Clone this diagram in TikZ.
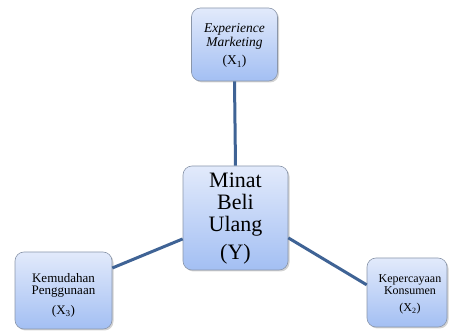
\documentclass[tikz,border=0pt]{standalone}
\usepackage{fontspec}
\setmainfont{Liberation Serif}
\usetikzlibrary{shadows,calc}
\definecolor{topc}{HTML}{E2EAFB}
\definecolor{botc}{HTML}{A3BFF3}
\definecolor{edgec}{HTML}{8A96AA}
\definecolor{linec}{HTML}{3F6395}
\begin{document}
\begin{tikzpicture}[x=1pt,y=-1pt,
  boxstyle/.style={rectangle,rounded corners=9pt,draw=edgec,line width=0.6pt,
    top color=topc,bottom color=botc,inner sep=0pt,
    drop shadow={shadow xshift=1.5pt,shadow yshift=-1.5pt,opacity=0.35}},
  txt/.style={align=center,inner sep=0pt,anchor=base},
  conn/.style={draw=linec,line width=3pt}]
\useasboundingbox (0,0) rectangle (451,331);
\node[boxstyle,minimum width=86pt,minimum height=73pt] (X1) at (234.5,44.5) {};
\node[boxstyle,minimum width=105pt,minimum height=104pt] (Y) at (235.5,218) {};
\node[boxstyle,minimum width=97pt,minimum height=77pt] (X3) at (63.5,290.5) {};
\node[boxstyle,minimum width=80pt,minimum height=69pt] (X2) at (407,292.5) {};
\coordinate (a1) at ($(Y.north west)!0.7!(Y.south west)$);
\coordinate (a2) at ($(X3.north east)!0.21!(X3.south east)$);
\coordinate (b1) at ($(Y.north east)!0.69!(Y.south east)$);
\coordinate (b2) at ($(X2.north west)!0.39!(X2.south west)$);
\draw[conn] (X1.south) -- (Y.north);
\draw[conn] (a1) -- (a2);
\draw[conn] (b1) -- (b2);
\node[txt,font=\fontsize{13.5}{14}\selectfont] (t1) at (234.5,65)
  {\itshape Experience\\\itshape Marketing\\[4pt](X\textsubscript{1})};
\node[txt,font=\fontsize{22}{22}\selectfont] (ty) at (235.5,260)
  {Minat\\Beli\\Ulang\\[6pt](Y)};
\node[txt,font=\fontsize{13}{12}\selectfont] (t3) at (63.5,315)
  {Kemudahan\\Penggunaan\\[8pt](X\textsubscript{3})};
\node[txt,font=\fontsize{12}{12}\selectfont] (t2) at (410,312)
  {Kepercayaan\\Konsumen\\[5pt](X\textsubscript{2})};
\end{tikzpicture}
\end{document}
